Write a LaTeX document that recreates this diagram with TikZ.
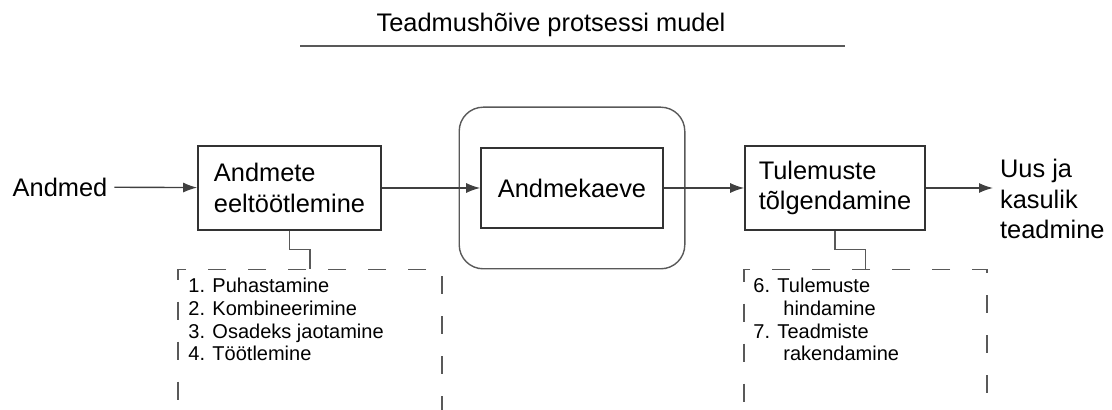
\documentclass[tikz,border=0pt]{standalone}
\usepackage{fontspec}
\setmainfont{Liberation Sans}
\usetikzlibrary{arrows.meta}
\usetikzlibrary{fit}
\usetikzlibrary{positioning}

\begin{document}
\begin{tikzpicture}[x=0.5pt,y=-0.5pt,>={Latex[length=7pt,width=5pt]},
  bigtext/.style={font=\fontsize{12.7}{15.3}\selectfont},
  smalltext/.style={font=\fontsize{10}{11.3}\selectfont},
  stagebox/.style={bigtext,draw=black!80,line width=0.8pt,minimum height=42pt,align=left},
  notebox/.style={draw=black!65,line width=0.7pt,dash pattern=on 9pt off 11pt,minimum height=100pt},
  flow/.style={->,draw=black!75,line width=0.7pt},
  link/.style={draw=black!65,line width=0.7pt}]
\useasboundingbox (0,0) rectangle (1112,410);

\node[name=title, bigtext] at (551,25) {Teadmushõive protsessi mudel};
\coordinate (rule_l) at (300,46);
\coordinate (rule_r) at (845,46);
\draw[link] (rule_l) -- (rule_r);

\node[name=in_data, bigtext] at (60,187) {Andmed};
\node[name=prep, stagebox, minimum width=91.5pt] at (289.5,188) {Andmete\\eeltöötlemine};
\node[name=mining, stagebox, minimum width=91pt, minimum height=40pt] at (572,188) {Andmekaeve};
\node[name=mining_frame, fit=(mining), draw=black!65, line width=0.7pt, rounded corners=12pt, inner xsep=10.5pt, inner ysep=20pt] {};
\node[name=interp, stagebox, minimum width=90pt] at (835,188) {Tulemuste\\tõlgendamine};
\node[name=out_know, bigtext, anchor=west, align=left] at (993,199) {Uus ja\\kasulik\\teadmine};

\node[name=prep_notes, notebox, minimum width=132pt, anchor=north] at (310,269) {};
\node[name=prep_list, smalltext, anchor=north west, align=left, inner sep=0pt] at (188,278) {1. Puhastamine\\2. Kombineerimine\\3. Osadeks jaotamine\\4. Töötlemine};
\node[name=interp_notes, notebox, minimum width=121.5pt, anchor=north] at (865.5,269) {};
\node[name=interp_list, smalltext, anchor=north west, align=left, inner sep=0pt] at (753,278) {6. Tulemuste\\\hspace*{15pt}hindamine\\7. Teadmiste\\\hspace*{15pt}rakendamine};

\draw[flow] (in_data) -- (prep);
\draw[flow] (prep) -- (mining);
\draw[flow] (mining) -- (interp);
\draw[flow] (interp.east) -- (interp.east -| out_know.west);

\draw[link] (prep.south) -- ++(0,19) -| (prep_notes.north);
\draw[link] (interp.south) -- ++(0,19) -| (interp_notes.north);
\end{tikzpicture}
\end{document}
